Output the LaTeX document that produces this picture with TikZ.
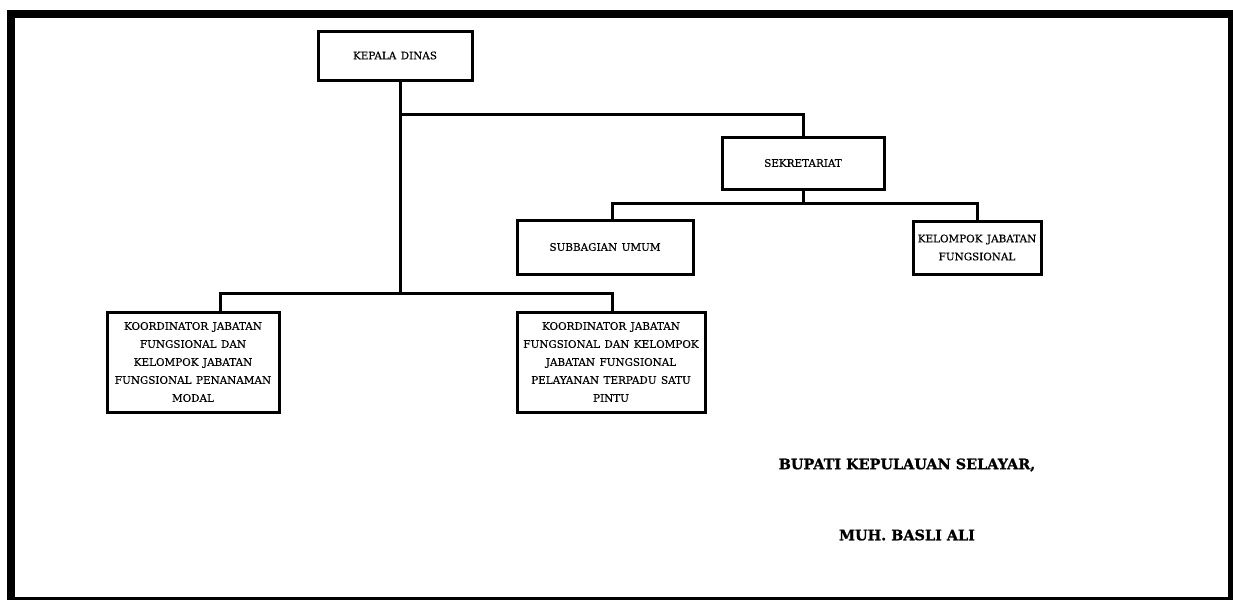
\documentclass[tikz,border=0pt]{standalone}
\usepackage{fontspec}
\setmainfont{DejaVu Serif}
\newfontfamily\boxfont[FakeBold=0.35,WordSpace=1.35]{DejaVu Serif}
\newfontfamily\signfont[UprightFont={* Bold},FakeBold=1.2]{DejaVu Serif}
\tikzset{
  orgbox/.style={draw=black, line width=3pt, fill=white, align=center, inner sep=0pt,
    font=\boxfont\fontsize{10.4}{18}\selectfont},
  link/.style={draw=black, line width=3pt, line cap=rect},
  sign/.style={font=\signfont\fontsize{14.4}{18}\selectfont, inner sep=0pt}
}
\begin{document}
\begin{tikzpicture}[x=1pt,y=-1pt]
\useasboundingbox (0,0) rectangle (1233,600);
% page frame
\fill[black] (7,10) rectangle (1233,18);
\fill[black] (7,10) rectangle (15,600);
\fill[black] (1228,10) rectangle (1233,600);
\fill[black] (7,597) rectangle (1233,600);

\node[orgbox, minimum width=154pt, minimum height=49pt] (kepala) at (395,55.5) {KEPALA DINAS};
\node[orgbox, minimum width=162pt, minimum height=52pt] (sek) at (803,163) {SEKRETARIAT};
\node[orgbox, minimum width=176pt, minimum height=54pt] (sub) at (605,247) {SUBBAGIAN UMUM};
\node[orgbox, minimum width=128pt, minimum height=53pt] (kel) at (977,247.5) {KELOMPOK JABATAN\\FUNGSIONAL};
\node[orgbox, minimum width=172pt, minimum height=100pt] (k1) at (193,362) {KOORDINATOR JABATAN\\FUNGSIONAL DAN\\KELOMPOK JABATAN\\FUNGSIONAL PENANAMAN\\MODAL};
\node[orgbox, minimum width=188pt, minimum height=100pt] (k2) at (611,362) {KOORDINATOR JABATAN\\FUNGSIONAL DAN KELOMPOK\\JABATAN FUNGSIONAL\\PELAYANAN TERPADU SATU\\PINTU};

\coordinate (a) at (400,114);
\coordinate (b) at (400,293);
\coordinate (c) at (220,293);
\coordinate (d) at (612,293);
\coordinate (e) at (803,203);
\coordinate (f) at (612,203);
\coordinate (g) at (977,203);

\draw[link] (kepala.south -| b) -- (b);
\draw[link] (a) -| (sek.north);
\draw[link] (c) -- (d);
\draw[link] (c) -- (c |- k1.north);
\draw[link] (d) -- (d |- k2.north);
\draw[link] (sek.south) -- (e);
\draw[link] (f) -- (g);
\draw[link] (f) -- (f |- sub.north);
\draw[link] (g) -- (g |- kel.north);

\node[sign] (bupati) at (907,465) {BUPATI KEPULAUAN SELAYAR,};
\node[sign] (nama) at (907,535) {MUH. BASLI ALI};
\end{tikzpicture}
\end{document}
